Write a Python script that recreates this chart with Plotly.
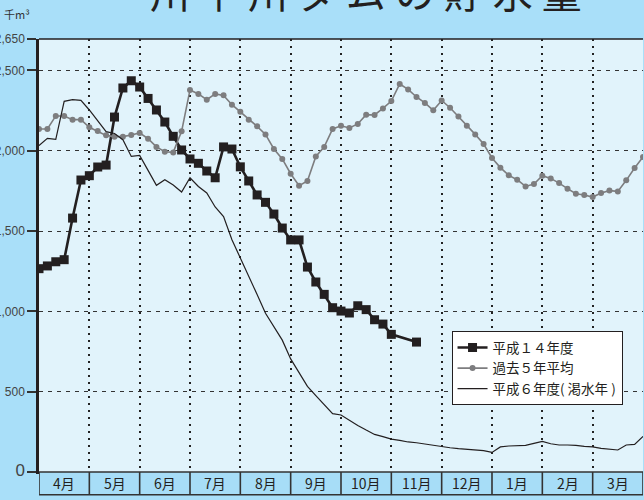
import plotly.graph_objects as go

months = ["4月", "5月", "6月", "7月", "8月", "9月", "10月", "11月", "12月", "1月", "2月", "3月"]

# x positions are half-month-period (5-day) indices: 6 per month, 0..72
h14_x = list(range(0, 43)) + [45]
h14_vals = [1266, 1283, 1309, 1322, 1581, 1818, 1845, 1899, 1911, 2210, 2391, 2436,
            2397, 2326, 2254, 2179, 2090, 2005, 1949, 1922, 1874, 1832, 2024, 2011,
            1900, 1812, 1725, 1679, 1606, 1519, 1445, 1445, 1276, 1183, 1106, 1023,
            1002, 990, 1035, 1011, 948, 921, 857, 809]

avg_x = list(range(0, 73))
avg_vals = [2136, 2136, 2217, 2217, 2194, 2194, 2146, 2123, 2096, 2088, 2088, 2098,
            2111, 2075, 2024, 1994, 1990, 2121, 2379, 2354, 2318, 2354, 2345, 2287,
            2243, 2194, 2152, 2102, 2011, 1949, 1857, 1783, 1812, 1965, 2024, 2136,
            2156, 2142, 2167, 2225, 2223, 2264, 2310, 2416, 2382, 2335, 2298, 2252,
            2313, 2268, 2214, 2156, 2102, 2042, 1955, 1895, 1847, 1820, 1778, 1793,
            1845, 1828, 1799, 1764, 1733, 1725, 1712, 1737, 1752, 1747, 1816, 1893,
            1961]

h6_x = list(range(0, 73))
h6_vals = [2032, 2077, 2071, 2308, 2318, 2314, 2254, 2187, 2119, 2108, 2069, 1965,
           1971, 1878, 1785, 1820, 1787, 1743, 1832, 1778, 1737, 1650, 1590, 1446,
           1335, 1221, 1105, 988, 904, 821, 704, 617, 533, 475, 419, 363,
           355, 321, 290, 261, 234, 220, 205, 197, 187, 182, 174, 164,
           157, 151, 145, 141, 137, 133, 122, 156, 162, 164, 166, 178,
           191, 176, 168, 168, 166, 159, 156, 147, 141, 137, 168, 172,
           222]

y_tickvals = [0, 500, 1000, 1500, 2000, 2500, 2696]
y_ticktext = ['<span style="font-size:17px">0</span>', "500", "1,000", "1,500",
              "2,000", "2,500", "2,650"]

OUTER = "#a9dff9"
INNER = "#e1f3fb"
INK = "#231f20"

fig = go.Figure()

fig.add_trace(go.Scatter(
    x=h14_x, y=h14_vals, name="平成１４年度", mode="lines+markers",
    line=dict(color=INK, width=2.6),
    marker=dict(symbol="square", size=9, color=INK),
))
fig.add_trace(go.Scatter(
    x=avg_x, y=avg_vals, name="過去５年平均", mode="lines+markers",
    line=dict(color="#7d7d7f", width=1.6),
    marker=dict(symbol="circle", size=6, color="#7d7d7f"),
))
fig.add_trace(go.Scatter(
    x=h6_x, y=h6_vals, name="平成６年度( 渇水年 )", mode="lines",
    line=dict(color=INK, width=1.2),
))

# month band under the plot
band_h = (495 - 472.3) / 433.0
shapes = [dict(type="rect", xref="x", yref="paper", x0=0, x1=72, y0=0, y1=-band_h,
               fillcolor="#a7ddf7", line=dict(color="#333333", width=1.6), layer="above")]
for k in range(1, 12):
    shapes.append(dict(type="line", xref="x", yref="paper", x0=6 * k, x1=6 * k,
                       y0=0, y1=-band_h, line=dict(color="#333333", width=1.6)))
# top border
shapes.append(dict(type="line", xref="paper", yref="paper", x0=0, x1=1, y0=1, y1=1,
                   line=dict(color=INK, width=1.5)))

annotations = [
    dict(text="川 平 川 ダ ム の 貯 水 量", xref="paper", yref="paper",
         x=0.541, y=1.040, xanchor="center", yanchor="bottom", showarrow=False,
         font=dict(size=40, color=INK, family="Noto Sans CJK JP")),
    dict(text="千m³", xref="paper", yref="paper",
         x=-0.012, y=1.058, xanchor="right", yanchor="middle", showarrow=False,
         font=dict(size=11, color="#333333", family="Noto Sans CJK JP")),
]
for i, m in enumerate(months):
    annotations.append(dict(text=m, xref="x", yref="paper", x=3 + 6 * i, y=-band_h / 2,
                            xanchor="center", yanchor="middle", showarrow=False,
                            font=dict(size=14, color=INK, family="Noto Sans CJK JP")))

fig.update_layout(
    width=644, height=500,
    margin=dict(l=39, r=1, t=39, b=28, autoexpand=False),
    paper_bgcolor=OUTER, plot_bgcolor=INNER,
    font=dict(family="Noto Sans CJK JP, Liberation Sans, sans-serif", color=INK),
    showlegend=True,
    legend=dict(
        x=0.683, y=0.325, xanchor="left", yanchor="top",
        bgcolor="white", bordercolor=INK, borderwidth=1,
        font=dict(size=13.5, color=INK), itemwidth=30,
        tracegroupgap=0,
    ),
    shapes=shapes,
    annotations=annotations,
)

fig.update_xaxes(
    range=[0, 72], tickmode="array", tickvals=[6 * i for i in range(13)],
    showticklabels=False, ticks="", showgrid=True, zeroline=False,
    gridcolor="#222222", griddash="2px,5px", gridwidth=1.5,
    showline=True, linecolor=INK, linewidth=2,
    automargin=False, fixedrange=True,
)
fig.update_yaxes(
    range=[0, 2696], tickmode="array", tickvals=y_tickvals, ticktext=y_ticktext,
    ticks="outside", ticklen=9, tickcolor="#333333", tickwidth=1.5,
    showgrid=True, gridcolor="#333333", griddash="4px,5px", gridwidth=1.3,
    zeroline=False, showline=True, linecolor=INK, linewidth=2.5,
    tickfont=dict(size=12, color="#444444", family="Liberation Sans"),
    automargin=False, fixedrange=True,
)

fig.write_html(
    "out.html",
    config={"displayModeBar": False},
    post_script="document.body.style.margin='0';document.body.style.overflow='hidden';",
)
